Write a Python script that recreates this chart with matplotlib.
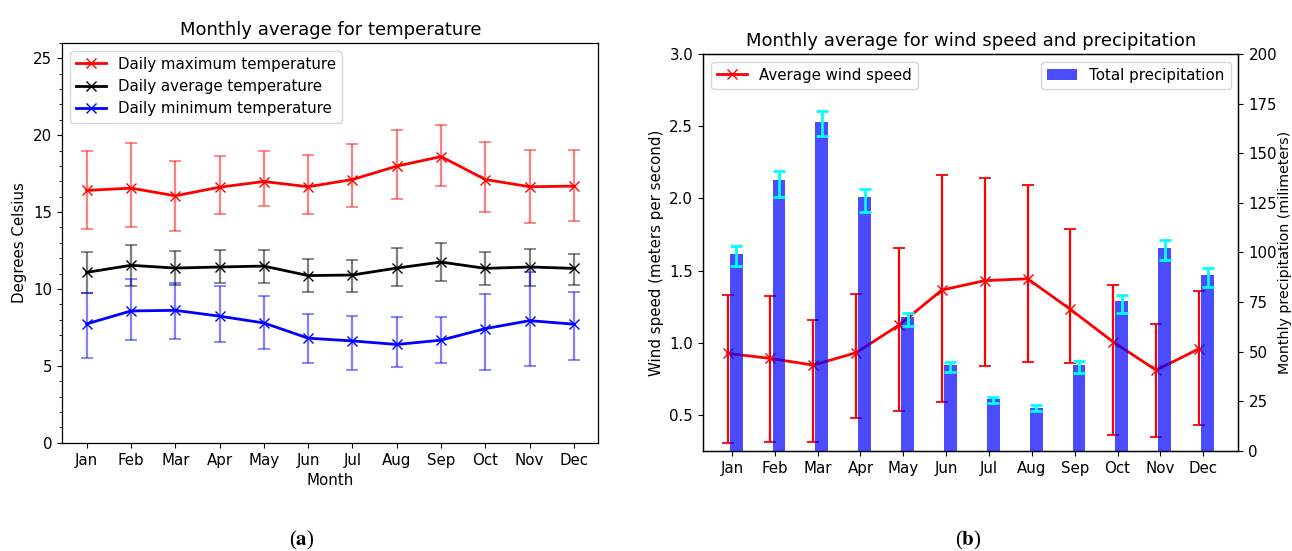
import matplotlib
matplotlib.use("Agg")
import matplotlib.pyplot as plt
import numpy as np
from matplotlib.ticker import MultipleLocator

months = ['Jan', 'Feb', 'Mar', 'Apr', 'May', 'Jun', 'Jul', 'Aug', 'Sep', 'Oct', 'Nov', 'Dec']

tmax = [16.41, 16.56, 16.06, 16.62, 16.99, 16.65, 17.12, 17.99, 18.61, 17.12, 16.65, 16.69]
tmax_hi = [19.0, 19.5, 18.31, 18.66, 19.0, 18.72, 19.44, 20.35, 20.69, 19.57, 19.07, 19.07]
tmax_lo = [13.9, 14.03, 13.74, 14.85, 15.37, 14.87, 15.35, 15.84, 16.67, 15.0, 14.29, 14.44]

tavg = [11.08, 11.54, 11.36, 11.43, 11.49, 10.87, 10.91, 11.36, 11.75, 11.34, 11.43, 11.34]
tavg_hi = [12.4, 12.84, 12.49, 12.55, 12.55, 11.93, 11.9, 12.68, 12.97, 12.4, 12.62, 12.25]
tavg_lo = [9.72, 10.22, 10.24, 10.41, 10.37, 9.81, 9.81, 10.22, 10.5, 10.24, 10.19, 10.24]

tmin = [7.73, 8.57, 8.61, 8.23, 7.79, 6.80, 6.62, 6.39, 6.67, 7.42, 7.94, 7.71]
tmin_hi = [9.74, 10.67, 10.37, 10.17, 9.55, 8.35, 8.27, 8.2, 8.2, 9.7, 11.1, 9.81]
tmin_lo = [5.48, 6.71, 6.77, 6.52, 6.08, 5.17, 4.76, 4.91, 5.17, 4.76, 4.98, 5.35]

wind = [0.926, 0.891, 0.845, 0.931, 1.122, 1.365, 1.43, 1.443, 1.231, 1.005, 0.81, 0.958]
wind_hi = [1.33, 1.321, 1.159, 1.337, 1.656, 2.162, 2.143, 2.095, 1.79, 1.402, 1.127, 1.36]
wind_lo = [0.303, 0.31, 0.31, 0.476, 0.527, 0.587, 0.838, 0.868, 0.857, 0.36, 0.349, 0.43]

precip = [99.3, 136.7, 165.9, 127.7, 67.6, 43.1, 26.0, 21.6, 43.3, 75.7, 102.3, 88.8]
precip_hi = [103.2, 141.1, 171.3, 131.9, 69.5, 44.8, 27.2, 22.8, 45.3, 78.7, 106.4, 92.3]
precip_lo = [93.3, 128.0, 158.6, 120.3, 63.1, 39.8, 24.2, 20.0, 39.4, 69.6, 96.0, 82.6]

FS = 10.8
plt.rcParams['font.family'] = ['DejaVu Sans']
plt.rcParams['font.size'] = FS
plt.rcParams['xtick.labelsize'] = FS
plt.rcParams['ytick.labelsize'] = FS
plt.rcParams['axes.labelsize'] = FS
plt.rcParams['legend.fontsize'] = FS
plt.rcParams['xtick.major.size'] = 3.8
plt.rcParams['ytick.major.size'] = 3.8
plt.rcParams['ytick.minor.size'] = 2.2
plt.rcParams['axes.linewidth'] = 0.9
plt.rcParams['mathtext.fontset'] = 'stix'

fig = plt.figure(figsize=(12.92, 5.51), dpi=100)
W, H = 1292.0, 551.0


def axes_px(x0, y0, x1, y1):
    return fig.add_axes([x0 / W, 1 - y1 / H, (x1 - x0) / W, (y1 - y0) / H])


x = np.arange(len(months))


def err(v, lo, hi):
    v = np.array(v); lo = np.array(lo); hi = np.array(hi)
    return np.vstack([v - lo, hi - v])


# ---- left panel ----
ax1 = axes_px(62.3, 43, 598.3, 442.7)
series = [
    (tmax, tmax_lo, tmax_hi, 'red', 'Daily maximum temperature'),
    (tavg, tavg_lo, tavg_hi, 'black', 'Daily average temperature'),
    (tmin, tmin_lo, tmin_hi, 'blue', 'Daily minimum temperature'),
]
for v, lo, hi, c, lab in series:
    ax1.errorbar(x, v, yerr=err(v, lo, hi), fmt='none', ecolor=c, alpha=0.5,
                 capsize=4.5, elinewidth=1.6, capthick=1.3)
    ax1.plot(x, v, color=c, marker='x', markersize=7.5, linewidth=2.0, label=lab)
ax1.set_ylim(0, 26)
ax1.set_xticks(x)
ax1.set_xticklabels(months)
ax1.yaxis.set_minor_locator(MultipleLocator(1))
ax1.set_xlabel('Month')
ax1.set_ylabel('Degrees Celsius')
ax1.set_title('Monthly average for temperature', fontsize=13)
ax1.legend(loc='upper left')

# ---- right panel ----
ax2 = axes_px(703.3, 54, 1238.3, 450.7)
ax3 = ax2.twinx()
ax2.errorbar(x - 0.1, wind, yerr=err(wind, wind_lo, wind_hi), fmt='none', ecolor='red',
             elinewidth=1.6, capsize=4.5, capthick=1.3)
ax2.plot(x - 0.1, wind, color='red', marker='x', markersize=7.5, linewidth=2.0,
         label='Average wind speed')
ax3.bar(x + 0.1, precip, width=0.3, color='blue', alpha=0.7, label='Total precipitation')
ax3.errorbar(x + 0.1, precip, yerr=err(precip, precip_lo, precip_hi), fmt='none',
             ecolor='cyan', elinewidth=2, capsize=4.5, capthick=2)
ax2.set_ylim(0.252, 3.0)
ax3.set_ylim(0, 200)
ax3.set_yticks(np.arange(0, 201, 25))
ax2.set_xticks(x)
ax2.set_xticklabels(months)
ax2.set_ylabel('Wind speed (meters per second)')
ax3.set_ylabel('Monthly precipitation (milimeters)', labelpad=0.5, fontsize=10.3)
ax2.set_title('Monthly average for wind speed and precipitation', fontsize=13)
ax2.legend(loc='upper left')
ax3.legend(loc='upper right')

# captions
fig.text(302 / W, 1 - 540 / H, r'($\mathbf{a}$)', ha='center', va='center',
         fontsize=15, family='Liberation Serif')
fig.text(968 / W, 1 - 540 / H, r'($\mathbf{b}$)', ha='center', va='center',
         fontsize=15, family='Liberation Serif')

fig.savefig('out.png', dpi=100)
